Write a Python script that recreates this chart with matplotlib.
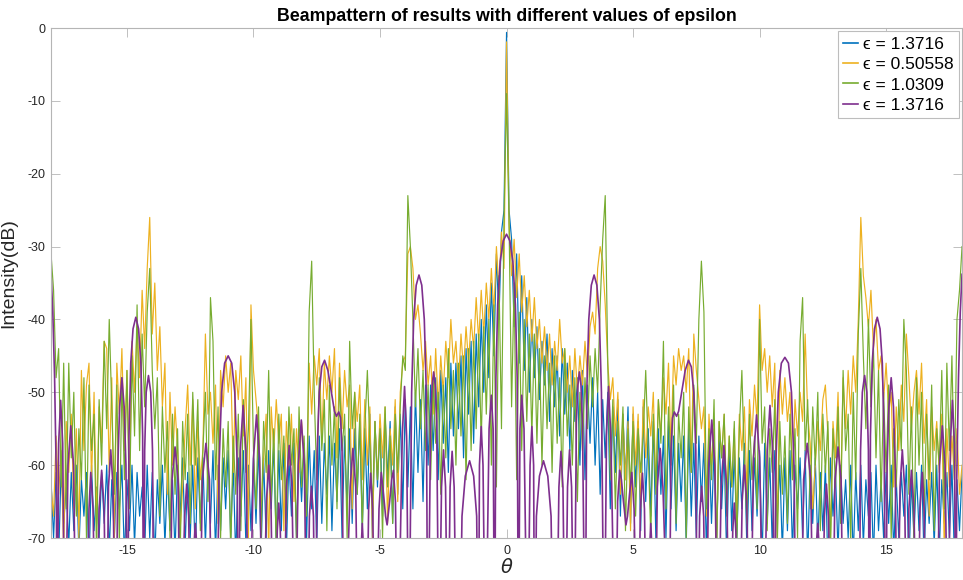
import numpy as np
import matplotlib
matplotlib.use("Agg")
import matplotlib.pyplot as plt

plt.rcParams['font.family'] = ['Liberation Sans', 'DejaVu Sans']
plt.rcParams['axes.unicode_minus'] = False

# Angle grid (degrees) for the three sampled beampatterns
theta = np.round(np.linspace(-18, 18, 361), 1)

eps_labels = ['\u03f5 = 1.3716', '\u03f5 = 0.50558',
              '\u03f5 = 1.0309', '\u03f5 = 1.3716']
colors = ['#0072BD', '#EDB120', '#77AC30', '#7E2F8E']

# Beampattern (dB), one row per degree of theta
blue_db = [
    -62, -70, -61, -73, -60, -68, -63, -71, -61, -69,
    -60, -72, -62, -67, -61, -74, -60, -69, -63, -70,
    -61, -68, -60, -72, -62, -70, -61, -66, -60, -73,
    -62, -69, -60, -71, -61, -67, -63, -72, -60, -70,
    -61, -73, -62, -68, -60, -71, -61, -69, -62, -72,
    -60, -67, -59, -71, -61, -70, -60, -73, -59, -68,
    -59, -71, -60, -68, -58, -72, -60, -69, -59, -66,
    -58, -70, -60, -73, -59, -67, -58, -71, -60, -69,
    -59, -68, -57, -72, -59, -70, -58, -66, -57, -71,
    -58, -69, -57, -72, -59, -67, -57, -70, -58, -65,
    -57, -70, -56, -66, -58, -71, -56, -68, -57, -64,
    -56, -69, -57, -65, -55, -70, -56, -66, -55, -68,
    -55, -64, -54, -69, -55, -66, -53, -70, -54, -63,
    -54, -67, -53, -62, -54, -68, -52, -64, -53, -66,
    -51, -63, -52, -66, -50, -61, -51, -65, -49, -60,
    -49, -58, -48, -62, -47, -57, -48, -61, -46, -56,
    -46, -55, -45, -59, -44, -53, -43, -57, -42, -52,
    -40, -50, -38, -48, -35, -45, -31, -40, -28, -25,
    -0.6, -25, -29, -41, -31, -46, -34, -47, -37, -50,
    -40, -48, -41, -51, -43, -49, -42, -54, -44, -52,
    -45, -56, -44, -53, -46, -58, -47, -54, -48, -60,
    -47, -62, -49, -57, -48, -60, -50, -64, -51, -59,
    -50, -66, -52, -61, -51, -67, -53, -62, -52, -68,
    -53, -63, -54, -69, -52, -65, -55, -67, -54, -70,
    -55, -64, -56, -70, -54, -66, -56, -69, -57, -65,
    -56, -71, -55, -67, -57, -70, -56, -65, -57, -72,
    -57, -68, -58, -71, -56, -66, -58, -73, -57, -69,
    -58, -70, -59, -66, -57, -72, -58, -69, -59, -67,
    -58, -73, -57, -68, -59, -71, -58, -67, -60, -72,
    -59, -69, -58, -72, -60, -66, -59, -70, -58, -73,
    -60, -68, -59, -71, -61, -69, -60, -74, -59, -67,
    -61, -72, -60, -68, -62, -70, -60, -73, -61, -69,
    -60, -71, -62, -67, -61, -73, -60, -69, -62, -70,
    -61, -68, -60, -72, -62, -70, -61, -67, -60, -74,
    -62, -70, -61, -69, -60, -73, -62, -68, -61, -71,
    -60, -72, -62, -68, -61, -70, -60, -73, -62, -69,
    -61,
]

yellow_db = [
    -63, -67, -56, -64, -58, -72, -54, -61, -53, -66,
    -55, -70, -47, -58, -49, -46, -62, -50, -68, -52,
    -57, -43, -44, -61, -48, -71, -46, -53, -44, -58,
    -47, -63, -43, -50, -41, -48, -36, -44, -33, -26,
    -42, -35, -47, -41, -52, -46, -64, -50, -60, -52,
    -58, -69, -63, -55, -49, -60, -51, -66, -54, -62,
    -58, -42, -53, -50, -57, -49, -68, -47, -52, -45,
    -50, -46, -61, -47, -51, -45, -56, -48, -70, -38,
    -47, -51, -55, -66, -59, -53, -72, -52, -58, -51,
    -57, -53, -69, -54, -60, -53, -65, -55, -61, -54,
    -59, -64, -46, -53, -45, -49, -44, -57, -46, -51,
    -45, -50, -44, -59, -46, -55, -47, -52, -49, -66,
    -50, -54, -49, -62, -51, -60, -52, -70, -54, -62,
    -53, -59, -52, -68, -55, -60, -51, -65, -50, -46,
    -45, -31, -30, -33, -40, -38, -42, -47, -43, -49,
    -45, -53, -44, -52, -45, -50, -43, -48, -40, -46,
    -43, -49, -42, -47, -41, -46, -40, -44, -37, -43,
    -36, -42, -35, -40, -33, -39, -30, -36, -28, -33,
    -1.9, -27, -34, -29, -37, -31, -39, -34, -41, -36,
    -43, -37, -44, -40, -46, -41, -47, -42, -49, -43,
    -47, -40, -46, -44, -50, -45, -52, -44, -50, -45,
    -49, -43, -48, -41, -39, -42, -33, -30, -32, -38,
    -46, -51, -48, -56, -50, -64, -53, -62, -54, -69,
    -52, -60, -53, -66, -51, -59, -52, -56, -50, -63,
    -51, -56, -48, -53, -46, -58, -45, -49, -44, -47,
    -45, -50, -44, -61, -42, -47, -51, -55, -52, -67,
    -53, -60, -55, -71, -54, -59, -53, -65, -56, -63,
    -55, -68, -53, -58, -52, -64, -51, -56, -49, -54,
    -38, -47, -44, -50, -45, -52, -46, -70, -47, -53,
    -48, -54, -50, -62, -51, -56, -50, -54, -42, -53,
    -57, -66, -60, -54, -58, -51, -49, -56, -70, -54,
    -59, -50, -65, -48, -55, -47, -53, -45, -50, -40,
    -26, -34, -37, -41, -36, -44, -40, -47, -45, -51,
    -46, -53, -50, -63, -52, -58, -49, -54, -42, -48,
    -55, -50, -47, -53, -46, -57, -51, -67, -52, -58,
    -54, -61, -53, -72, -55, -63, -56, -62, -55, -64,
    -60,
]

green_db = [
    -31, -36, -48, -44, -63, -46, -66, -46, -59, -50,
    -67, -55, -62, -48, -70, -49, -58, -53, -72, -51,
    -60, -43, -55, -40, -52, -64, -49, -71, -48, -62,
    -47, -66, -45, -56, -38, -58, -42, -52, -39, -33,
    -47, -55, -48, -67, -52, -61, -54, -70, -53, -64,
    -55, -73, -54, -62, -53, -68, -50, -60, -51, -69,
    -58, -50, -65, -37, -43, -62, -52, -70, -55, -63,
    -54, -72, -56, -64, -53, -69, -51, -61, -55, -40,
    -58, -66, -52, -70, -54, -61, -47, -65, -55, -72,
    -53, -62, -56, -68, -52, -60, -55, -71, -52, -63,
    -56, -67, -39, -32, -50, -62, -48, -58, -51, -69,
    -49, -60, -52, -66, -48, -58, -53, -70, -43, -55,
    -50, -64, -53, -69, -55, -47, -57, -66, -54, -62,
    -55, -70, -52, -63, -56, -68, -53, -61, -52, -45,
    -47, -23, -30, -40, -52, -44, -55, -47, -58, -49,
    -62, -48, -57, -50, -64, -49, -59, -44, -55, -47,
    -60, -46, -56, -45, -62, -44, -58, -43, -55, -42,
    -57, -41, -53, -40, -60, -38, -63, -34, -55, -26,
    -9, -27, -52, -35, -62, -39, -58, -40, -54, -42,
    -56, -42, -57, -44, -60, -45, -55, -46, -61, -45,
    -57, -48, -63, -44, -56, -49, -60, -48, -65, -50,
    -58, -48, -55, -45, -52, -44, -50, -38, -29, -23,
    -46, -62, -51, -66, -54, -60, -52, -69, -55, -63,
    -54, -67, -55, -61, -56, -47, -58, -70, -53, -64,
    -51, -57, -43, -66, -52, -60, -49, -68, -53, -59,
    -50, -70, -52, -61, -49, -57, -40, -32, -39, -66,
    -55, -62, -51, -72, -54, -59, -53, -67, -56, -63,
    -54, -71, -55, -47, -60, -68, -53, -62, -56, -66,
    -40, -57, -52, -69, -55, -61, -51, -71, -54, -64,
    -56, -68, -53, -62, -55, -70, -43, -37, -58, -51,
    -66, -52, -60, -50, -69, -53, -61, -54, -72, -55,
    -63, -52, -68, -47, -58, -53, -71, -50, -62, -42,
    -33, -45, -55, -40, -52, -44, -59, -47, -65, -50,
    -61, -49, -70, -55, -63, -51, -58, -40, -47, -64,
    -52, -71, -48, -60, -50, -67, -53, -62, -49, -69,
    -55, -60, -47, -66, -46, -58, -45, -62, -40, -36,
    -30,
]

# Smooth beampattern traced lobe by lobe: (theta, dB); nulls drop below the axis
N = -90
purple_curve = [
    (-18.0, -33.8), (-17.93, -39), (-17.86, -48), (-17.79, -62), (-17.76, N),
    (-17.7, -57), (-17.62, -51.1), (-17.54, -57), (-17.45, N),
    (-17.33, -60), (-17.22, -54.6), (-17.11, -60), (-17.0, N),
    (-16.6, N), (-16.5, -66), (-16.43, -61), (-16.34, -66), (-16.22, N),
    (-16.1, -66), (-16.0, -60.7), (-15.9, -66), (-15.82, N),
    (-15.73, -63), (-15.64, -57.9), (-15.55, -63), (-15.44, N),
    (-15.36, -60), (-15.29, -52), (-15.2, -48), (-15.11, -52), (-15.04, -60), (-14.98, N),
    (-14.92, -56), (-14.85, -46), (-14.76, -41.3), (-14.65, -39.7), (-14.54, -41.3),
    (-14.45, -46), (-14.38, -56), (-14.34, N),
    (-14.3, -58), (-14.24, -50), (-14.15, -47.7), (-14.06, -50), (-13.99, -58), (-13.93, N),
    (-13.32, N), (-13.22, -62), (-13.1, -57.5), (-12.98, -62), (-12.88, N),
    (-12.72, -67), (-12.64, -62.6), (-12.56, -67), (-12.47, N),
    (-12.35, -71), (-12.3, -68), (-12.24, -71), (-12.14, N),
    (-12.02, -62), (-11.88, -57), (-11.74, -62), (-11.62, N),
    (-11.45, N), (-11.36, -60), (-11.26, -50), (-11.14, -46), (-11.0, -45),
    (-10.86, -46), (-10.74, -50), (-10.64, -60), (-10.6, N),
    (-10.52, -58), (-10.41, -51.8), (-10.3, -58), (-10.17, N),
    (-10.0, -59), (-9.88, -53.1), (-9.76, -59), (-9.63, N),
    (-9.49, -65), (-9.4, -60), (-9.31, -65), (-9.2, N),
    (-9.06, -69), (-9.0, -65.2), (-8.94, -69), (-8.82, N),
    (-8.7, -63), (-8.59, -57.3), (-8.48, -63), (-8.36, N),
    (-8.23, -60), (-8.11, -53.8), (-7.99, -60), (-7.88, N),
    (-7.79, -67), (-7.71, -62.9), (-7.63, -67), (-7.55, N),
    (-7.48, -58), (-7.4, -50), (-7.3, -46.5), (-7.19, -45.6), (-7.06, -47), (-6.92, -50),
    (-6.8, -52.6), (-6.72, -53.3), (-6.63, -52.7), (-6.56, -53.5), (-6.5, -58), (-6.42, N),
    (-6.18, -63), (-6.07, -57.7), (-5.96, -63), (-5.86, N),
    (-5.74, -71), (-5.7, -68), (-5.66, -71), (-5.55, N),
    (-5.45, -66), (-5.37, -61.1), (-5.29, -66), (-5.18, N),
    (-5.04, -66), (-4.95, -61), (-4.86, -64), (-4.78, -67), (-4.72, -68.2),
    (-4.62, -65), (-4.54, -62), (-4.47, -60.7), (-4.39, -65), (-4.3, N),
    (-4.12, -56), (-4.03, -49.2), (-3.95, -56), (-3.86, N),
    (-3.75, -50), (-3.67, -40), (-3.57, -35.3), (-3.46, -33.9), (-3.35, -35.3),
    (-3.25, -40), (-3.17, -50), (-3.11, N),
    (-3.0, -54), (-2.94, -49), (-2.88, -47.2), (-2.82, -49), (-2.76, -54), (-2.67, N),
    (-2.57, -63), (-2.49, -57.9), (-2.41, -63), (-2.32, N),
    (-2.23, -63), (-2.15, -58.1), (-2.07, -63), (-1.97, N),
    (-1.86, N), (-1.76, -67), (-1.63, -61.5), (-1.46, -59.4), (-1.3, -61.5), (-1.18, -67), (-1.11, N),
    (-1.07, -60), (-1.0, -54.7), (-0.93, -60), (-0.83, N),
    (-0.69, -55), (-0.6, -50.4), (-0.53, -55), (-0.47, N),
    (-0.42, -48), (-0.35, -38), (-0.25, -32), (-0.13, -29.2), (0.0, -28.3),
    (0.13, -29.2), (0.25, -32), (0.35, -38), (0.42, -48), (0.47, N),
    (0.53, -55), (0.6, -50.4), (0.69, -55), (0.83, N),
    (0.93, -60), (1.0, -54.7), (1.07, -60), (1.11, N),
    (1.18, -67), (1.3, -61.5), (1.46, -59.4), (1.63, -61.5), (1.76, -67), (1.86, N),
    (1.97, N), (2.07, -63), (2.15, -58.1), (2.23, -63), (2.32, N),
    (2.41, -63), (2.49, -57.9), (2.57, -63), (2.67, N),
    (2.76, -54), (2.82, -49), (2.88, -47.2), (2.94, -49), (3.0, -54), (3.11, N),
    (3.17, -50), (3.25, -40), (3.35, -35.3), (3.46, -33.9), (3.57, -35.3),
    (3.67, -40), (3.75, -50), (3.86, N),
    (3.95, -56), (4.03, -49.2), (4.12, -56), (4.3, N),
    (4.39, -65), (4.47, -60.7), (4.54, -62), (4.62, -65), (4.72, -68.2),
    (4.78, -67), (4.86, -64), (4.95, -61), (5.04, -66), (5.18, N),
    (5.29, -66), (5.37, -61.1), (5.45, -66), (5.55, N),
    (5.66, -71), (5.7, -68), (5.74, -71), (5.86, N),
    (5.96, -63), (6.07, -57.7), (6.18, -63), (6.42, N),
    (6.5, -58), (6.56, -53.5), (6.63, -52.7), (6.72, -53.3), (6.8, -52.6), (6.92, -50),
    (7.06, -47), (7.19, -45.6), (7.3, -46.5), (7.4, -50), (7.48, -58), (7.55, N),
    (7.63, -67), (7.71, -62.9), (7.79, -67), (7.88, N),
    (7.99, -60), (8.11, -53.8), (8.23, -60), (8.36, N),
    (8.48, -63), (8.59, -57.3), (8.7, -63), (8.82, N),
    (8.94, -69), (9.0, -65.2), (9.06, -69), (9.2, N),
    (9.31, -65), (9.4, -60), (9.49, -65), (9.63, N),
    (9.76, -59), (9.88, -53.1), (10.0, -59), (10.17, N),
    (10.3, -58), (10.41, -51.8), (10.52, -58), (10.6, N),
    (10.64, -60), (10.74, -50), (10.86, -46), (11.0, -45.2), (11.14, -46),
    (11.26, -50), (11.36, -60), (11.45, N),
    (11.62, N), (11.74, -62), (11.88, -57), (12.02, -62), (12.14, N),
    (12.24, -71), (12.3, -68), (12.35, -71), (12.47, N),
    (12.56, -67), (12.64, -62.6), (12.72, -67), (12.88, N),
    (12.98, -62), (13.1, -57.5), (13.22, -62), (13.32, N),
    (13.93, N), (13.99, -58), (14.06, -50), (14.15, -47.7), (14.24, -50), (14.3, -58), (14.34, N),
    (14.38, -56), (14.45, -46), (14.54, -41.3), (14.65, -39.7), (14.76, -41.3),
    (14.85, -46), (14.92, -56), (14.98, N),
    (15.04, -60), (15.11, -52), (15.2, -48), (15.29, -52), (15.36, -60), (15.44, N),
    (15.55, -63), (15.64, -57.9), (15.73, -63), (15.82, N),
    (15.9, -66), (16.0, -60.7), (16.1, -66), (16.22, N),
    (16.34, -66), (16.43, -61), (16.5, -66), (16.6, N),
    (17.0, N), (17.11, -60), (17.22, -54.6), (17.33, -60), (17.45, N),
    (17.54, -57), (17.62, -51.1), (17.7, -57), (17.76, N),
    (17.79, -62), (17.86, -48), (17.93, -39), (18.0, -33.8),
]

fig = plt.figure(figsize=(9.63, 5.8), dpi=100)
ax = fig.add_axes([0.053, 0.0724, 0.946, 0.8793])

ax.plot(theta, blue_db, color=colors[0], lw=0.85, label=eps_labels[0])
ax.plot(theta, yellow_db, color=colors[1], lw=0.85, label=eps_labels[1])
ax.plot(theta, green_db, color=colors[2], lw=0.85, label=eps_labels[2])
px, py = zip(*purple_curve)
ax.plot(px, py, color=colors[3], lw=1.2, label=eps_labels[3])

ax.set_xlim(-18, 18)
ax.set_ylim(-70, 0)
ax.set_xticks([-15, -10, -5, 0, 5, 10, 15])
ax.set_yticks([-70, -60, -50, -40, -30, -20, -10, 0])

for s in ax.spines.values():
    s.set_color('#b5b5b5')
    s.set_linewidth(0.8)
ax.tick_params(direction='in', length=6.5, width=0.6, top=True, right=True,
               color='#b5b5b5', labelcolor='#262626', labelsize=9)
ax.tick_params(axis='x', pad=5)
ax.tick_params(axis='y', pad=4)

ax.set_title('Beampattern of results with different values of epsilon',
             fontsize=12.8, fontweight='bold', color='#000000', pad=5)
ax.set_ylabel('Intensity(dB)', fontsize=14, color='#262626')
ax.yaxis.set_label_coords(-0.037, 0.52)
ax.set_xlabel(r'$\theta$', fontsize=14, color='#262626', labelpad=1)

leg = ax.legend(loc='upper right', fontsize=12.5, handlelength=0.9,
                handletextpad=0.25, borderpad=0.3, labelspacing=0.3,
                borderaxespad=0.2, fancybox=False, framealpha=1)
leg.get_frame().set_edgecolor('#bdbdbd')
leg.get_frame().set_linewidth(0.8)
for line in leg.get_lines():
    line.set_linewidth(1.2)

fig.savefig('out.png', dpi=100, facecolor='white')
